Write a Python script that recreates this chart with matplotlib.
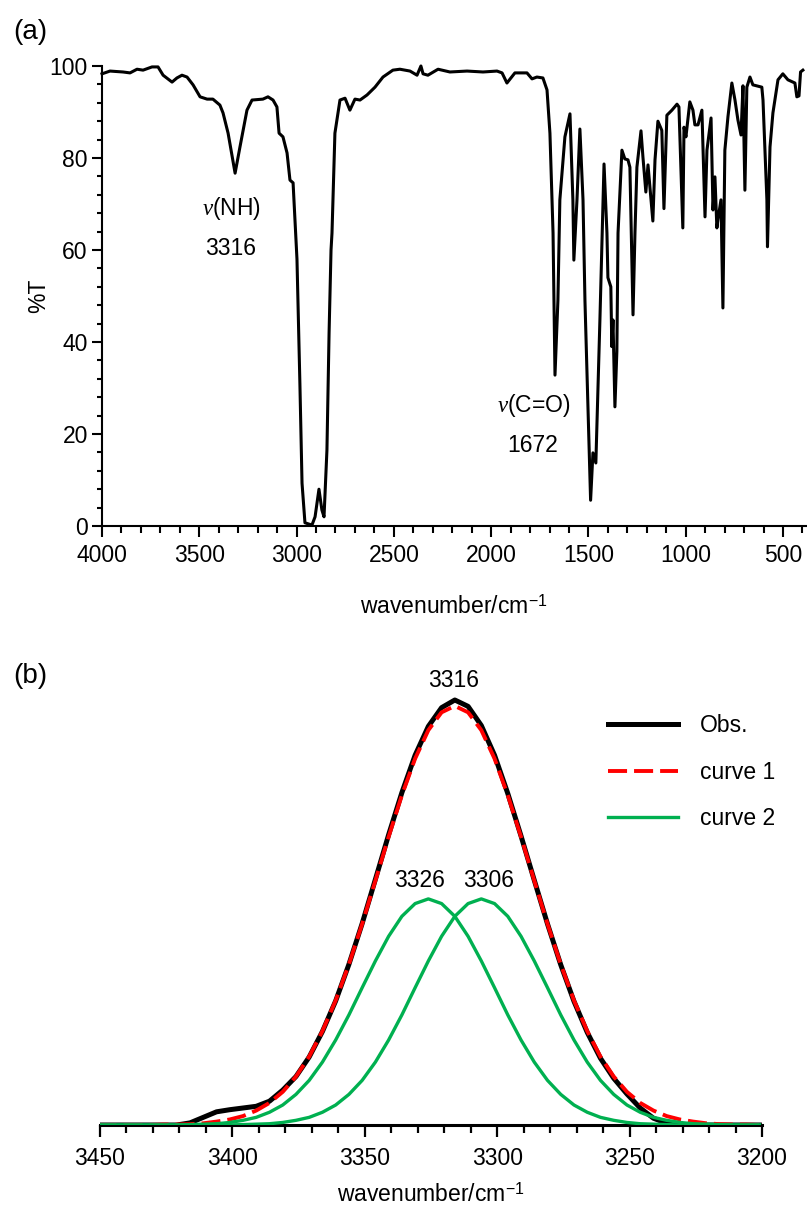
import matplotlib
matplotlib.use('Agg')
import matplotlib.pyplot as plt
from matplotlib.ticker import MultipleLocator

plt.rcParams['font.family'] = ['Liberation Sans', 'DejaVu Sans']
plt.rcParams['mathtext.fontset'] = 'custom'
plt.rcParams['mathtext.rm'] = 'Liberation Sans'
plt.rcParams['mathtext.it'] = 'Liberation Serif:italic'

# (a) full IR spectrum
wn_a = [4000, 3959, 3892, 3856, 3820, 3789, 3743, 3712, 3686, 3640, 3615, 3589, 3563, 3532,
        3496, 3460, 3430, 3394, 3378, 3352, 3316, 3291, 3255, 3229, 3173, 3147, 3121, 3101,
        3090, 3070, 3049, 3034, 3018, 2998, 2983, 2972, 2957, 2921, 2905, 2885, 2870, 2859,
        2844, 2833, 2823, 2818, 2803, 2777, 2751, 2726, 2700, 2674, 2638, 2597, 2556, 2505,
        2469, 2417, 2381, 2361, 2350, 2325, 2273, 2212, 2124, 2042, 1970, 1944, 1919, 1878,
        1816, 1790, 1765, 1734, 1713, 1698, 1682, 1672, 1657, 1647, 1621, 1595, 1580, 1575,
        1559, 1544, 1528, 1518, 1489, 1477, 1462, 1441, 1420, 1405, 1400, 1385, 1380, 1374,
        1364, 1354, 1348, 1328, 1313, 1297, 1287, 1271, 1261, 1251, 1230, 1220, 1205, 1194,
        1169, 1158, 1143, 1123, 1112, 1097, 1071, 1045, 1035, 1015, 1009, 999, 979, 963,
        953, 937, 917, 901, 891, 870, 860, 850, 840, 835, 819, 809, 799, 783, 763, 747, 732,
        716, 706, 696, 686, 670, 655, 609, 603, 583, 580, 567, 552, 526, 501, 475, 439, 429,
        418, 410, 398]
T_a = [98.3, 98.9, 98.7, 98.5, 99.3, 99.1, 99.8, 99.8, 98.0, 96.5, 97.4, 98.0, 97.6, 95.9,
       93.3, 92.8, 92.8, 91.5, 89.8, 85.4, 76.7, 82.4, 90.4, 92.6, 92.8, 93.3, 92.6, 91.1,
       85.4, 84.6, 81.1, 75.2, 74.6, 58.0, 31.0, 9.3, 0.7, 0.2, 2.0, 8.0, 3.5, 2.0,
       16.5, 42.0, 60.0, 63.7, 85.4, 92.6, 93.0, 90.4, 92.8, 92.6, 93.7, 95.4, 97.6, 99.1,
       99.3, 98.9, 98.0, 100.0, 98.3, 98.0, 99.3, 98.7, 98.9, 98.7, 98.9, 98.5, 96.3, 98.5,
       98.5, 97.2, 97.6, 97.4, 94.8, 85.4, 63.7, 32.8, 49.0, 70.9, 84.6, 89.6, 70.9, 57.8,
       70.9, 86.3, 70.9, 49.0, 5.6, 15.9, 13.7, 45.0, 78.7, 63.7, 54.0, 52.0, 39.0, 44.8,
       25.9, 38.0, 63.7, 81.7, 79.8, 79.6, 78.0, 45.9, 63.7, 78.0, 85.9, 80.2, 72.6, 78.5,
       66.3, 79.6, 88.0, 86.0, 69.0, 89.3, 90.4, 91.7, 91.1, 64.8, 86.7, 84.6, 92.2, 90.4,
       87.2, 87.2, 90.4, 67.2, 81.7, 88.7, 68.7, 75.9, 64.8, 66.5, 70.9, 47.4, 81.7, 89.0, 96.3, 92.6, 88.3,
       85.0, 95.7, 73.0, 95.4, 97.6, 95.9, 95.4, 92.6, 70.9, 60.7, 82.4, 89.8, 97.0, 98.3, 97.0, 96.3, 93.3,
       93.5, 98.7, 99.1]

# (b) NH band and fitted curves (normalised absorbance), 3451 -> 3201 every 5 cm-1
wn_b = list(range(3451, 3200, -5))
obs = [0, 0, 0, 0, 0, 0, 0, 0.005, 0.018, 0.031, 0.036, 0.040, 0.044, 0.056, 0.082, 0.114,
       0.160, 0.220, 0.292, 0.378, 0.474, 0.578, 0.683, 0.782, 0.870, 0.938, 0.982, 1.000,
       0.985, 0.940, 0.870, 0.780, 0.680, 0.576, 0.473, 0.377, 0.291, 0.218, 0.157, 0.110,
       0.073, 0.040, 0.016, 0.004, 0, 0, 0, 0, 0, 0, 0]
curve1 = [0, 0, 0, 0, 0, 0.001, 0.001, 0.002, 0.004, 0.008, 0.013, 0.021, 0.034, 0.052,
          0.078, 0.114, 0.161, 0.221, 0.293, 0.378, 0.473, 0.575, 0.678, 0.776, 0.862, 0.929,
          0.971, 0.986, 0.971, 0.929, 0.862, 0.776, 0.678, 0.575, 0.473, 0.378, 0.293, 0.221,
          0.161, 0.114, 0.078, 0.052, 0.034, 0.021, 0.013, 0.008, 0.004, 0.002, 0.001, 0.001, 0]
curve2a = [0, 0, 0, 0, 0, 0, 0, 0.001, 0.002, 0.003, 0.006, 0.011, 0.018, 0.030, 0.047,
           0.072, 0.105, 0.148, 0.200, 0.259, 0.323, 0.386, 0.444, 0.491, 0.521, 0.532, 0.521,
           0.491, 0.444, 0.386, 0.323, 0.259, 0.200, 0.148, 0.105, 0.072, 0.047, 0.030, 0.018,
           0.011, 0.006, 0.003, 0.002, 0.001, 0, 0, 0, 0, 0, 0, 0]
curve2b = [0, 0, 0, 0, 0, 0, 0, 0, 0, 0, 0, 0.001, 0.002, 0.003, 0.006, 0.011, 0.018, 0.030,
           0.047, 0.072, 0.105, 0.148, 0.200, 0.259, 0.323, 0.386, 0.444, 0.491, 0.521, 0.532,
           0.521, 0.491, 0.444, 0.386, 0.323, 0.259, 0.200, 0.148, 0.105, 0.072, 0.047, 0.030,
           0.018, 0.011, 0.006, 0.003, 0.002, 0.001, 0, 0, 0]

FS = 16.5
GREEN = '#00B050'
W, H = 807, 1209

fig = plt.figure(figsize=(W / 100, H / 100), dpi=100)

# ---- (a)
ax1 = fig.add_axes([102 / W, 683 / H, 704 / W, 460 / H])
ax1.plot(wn_a, T_a, color='k', lw=2.2, clip_on=False, solid_joinstyle='round')
ax1.set_xlim(4000, 382)
ax1.set_ylim(0, 100)
for s in ['top', 'right']:
    ax1.spines[s].set_visible(False)
for s in ['left', 'bottom']:
    ax1.spines[s].set_linewidth(1.5)
ax1.xaxis.set_major_locator(MultipleLocator(500))
ax1.xaxis.set_minor_locator(MultipleLocator(100))
ax1.yaxis.set_major_locator(MultipleLocator(20))
ax1.yaxis.set_minor_locator(MultipleLocator(4))
ax1.tick_params(axis='x', which='major', length=8, width=1.5, labelsize=FS, pad=5)
ax1.tick_params(axis='x', which='minor', length=4.8, width=1.5)
ax1.tick_params(axis='y', which='major', length=7.2, width=1.5, labelsize=FS, pad=3)
ax1.tick_params(axis='y', which='minor', length=3.6, width=1.5)
ax1.set_xlabel('wavenumber/cm$^{\\mathregular{-1}}$', fontsize=FS, labelpad=20)
ax1.set_ylabel('%T', fontsize=FS)
ax1.yaxis.set_label_coords(-0.073, 0.5)
ax1.text(3337, 69.1, '$\\nu$(NH)', fontsize=FS, ha='center', va='center')
ax1.text(3337, 60.4, '3316', fontsize=FS, ha='center', va='center')
ax1.text(1780, 26.3, '$\\nu$(C=O)', fontsize=FS, ha='center', va='center')
ax1.text(1785, 17.6, '1672', fontsize=FS, ha='center', va='center')

# ---- (b)
ax2 = fig.add_axes([100 / W, 84 / H, 662 / W, 465 / H])
ax2.plot(wn_b, obs, color='k', lw=3.6, label='Obs.', zorder=2)
ax2.plot(wn_b, curve1, color='#FF0000', lw=2.8, dashes=(4.9, 1.8), label='curve 1', zorder=3)
ax2.plot(wn_b, curve2a, color=GREEN, lw=2.4, label='curve 2', zorder=4)
ax2.plot(wn_b, curve2b, color=GREEN, lw=2.4, zorder=4)
ax2.set_xlim(3450, 3200)
ax2.set_ylim(0, 465 / 425)
for s in ['top', 'right', 'left']:
    ax2.spines[s].set_visible(False)
ax2.spines['bottom'].set_linewidth(2.2)
ax2.set_yticks([])
ax2.xaxis.set_major_locator(MultipleLocator(50))
ax2.xaxis.set_minor_locator(MultipleLocator(10))
ax2.tick_params(axis='x', which='major', length=8.6, width=1.6, labelsize=FS, pad=7)
ax2.tick_params(axis='x', which='minor', length=5.8, width=1.6)
ax2.set_xlabel('wavenumber/cm$^{\\mathregular{-1}}$', fontsize=FS, labelpad=10)
ax2.text(3316.3, 1.047, '3316', fontsize=FS, ha='center', va='center')
ax2.text(3329.2, 0.576, '3326', fontsize=FS, ha='center', va='center')
ax2.text(3303.1, 0.576, '3306', fontsize=FS, ha='center', va='center')
ax2.legend(loc='upper left', bbox_to_anchor=(608 / W, 1 - 714 / H), bbox_transform=fig.transFigure,
           frameon=False, borderpad=0, borderaxespad=0, handlelength=3.05, handletextpad=0.96,
           labelspacing=1.03, fontsize=FS)

fig.text(30 / W, 1 - 32 / H, '(a)', fontsize=20, ha='center', va='center')
fig.text(30 / W, 1 - 676 / H, '(b)', fontsize=20, ha='center', va='center')

fig.savefig('out.png', dpi=100)
